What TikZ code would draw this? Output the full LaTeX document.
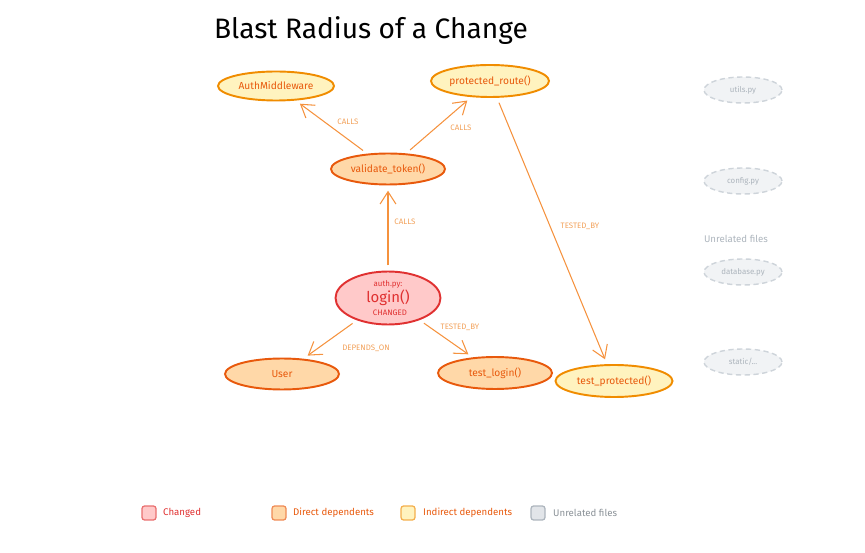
\documentclass[tikz,border=0pt]{standalone}
\usepackage{fontspec}
\setmainfont{Fira Sans}
\usetikzlibrary{shapes.geometric, arrows.meta}
\definecolor{chgfill}{HTML}{FFC9C9}
\definecolor{chgline}{HTML}{E03131}
\definecolor{dirfill}{HTML}{FFD8A8}
\definecolor{dirline}{HTML}{E8590C}
\definecolor{indfill}{HTML}{FFF3BF}
\definecolor{indline}{HTML}{F08C00}
\definecolor{unrfill}{HTML}{F1F3F5}
\definecolor{unrline}{HTML}{CED4DA}
\definecolor{unrtext}{HTML}{ADB5BD}
\definecolor{edgec}{HTML}{F5923E}
\definecolor{lblc}{HTML}{F2A25C}

\begin{document}
\begin{tikzpicture}[x=0.02cm, y=-0.02cm,
		chg/.style={draw=chgline, fill=chgfill, ellipse, line width=1.1pt, text=chgline, inner sep=0},
		dir/.style={draw=dirline, fill=dirfill, ellipse, line width=1.1pt, text=dirline, inner sep=0, font=\fontsize{5.8}{7}\selectfont},
		ind/.style={draw=indline, fill=indfill, ellipse, line width=1.1pt, text=dirline, inner sep=0, font=\fontsize{5.8}{7}\selectfont},
		unr/.style={draw=unrline, fill=unrfill, ellipse, dash pattern=on 3pt off 2pt, line width=0.8pt, text=unrtext, inner sep=0, minimum width=1.56cm, minimum height=0.52cm, font=\fontsize{4.5}{5}\selectfont},
		rel/.style={draw=edgec, line width=0.6pt, -{Straight Barb[length=7pt, width=9pt]}, shorten >=3pt, shorten <=3pt},
		lbl/.style={text=lblc, font=\fontsize{4.5}{5}\selectfont},
		key/.style={draw, rounded corners=1.5pt, line width=0.7pt, minimum size=0.28cm, inner sep=0},
		keytxt/.style={anchor=west, font=\fontsize{5.5}{6}\selectfont}]
		\useasboundingbox (0,0) rectangle (865,553);
		
		\node[font=\fontsize{16}{18}\selectfont] (title) at (371,31) {Blast Radius of a Change};
		
		% changed file
		\node[chg, minimum width=2.10cm, minimum height=1.06cm] (login) at (388,298) {};
		\node[text=chgline, font=\fontsize{4.5}{5}\selectfont] (loginfile) at (388,284) {auth.py:};
		\node[text=chgline, font=\fontsize{8.5}{9}\selectfont] (loginname) at (388,298) {login()};
		\node[text=chgline, font=\fontsize{4.5}{5}\selectfont] (loginflag) at (390,313) {CHANGED};
		
		% direct dependents
		\node[dir, minimum width=2.28cm, minimum height=0.62cm] (val) at (388,169) {validate\_token()};
		\node[dir, minimum width=2.28cm, minimum height=0.62cm] (user) at (282,374) {User};
		\node[dir, minimum width=2.28cm, minimum height=0.64cm] (tlogin) at (495,373) {test\_login()};
		
		% indirect dependents
		\node[ind, minimum width=2.32cm, minimum height=0.58cm] (auth) at (276,86) {AuthMiddleware};
		\node[ind, minimum width=2.36cm, minimum height=0.64cm] (prot) at (490,81) {protected\_route()};
		\node[ind, minimum width=2.34cm, minimum height=0.64cm] (tprot) at (614,381) {test\_protected()};
		
		% unrelated files
		\node[unr] (utils) at (743,90) {utils.py};
		\node[unr] (config) at (743,181) {config.py};
		\node[unr] (db) at (743,272) {database.py};
		\node[unr] (static) at (743,362) {static/...};
		\node[text=unrtext, font=\fontsize{5.5}{6}\selectfont] (unrlbl) at (736,239) {Unrelated files};
		
		\draw[rel] (login) -- (val);
		\draw[rel] (val) -- (auth);
		\draw[rel] (val) -- (prot);
		\draw[rel] (login) -- (user);
		\draw[rel] (login) -- (tlogin);
		\draw[rel] (prot) -- (tprot);
		
		\node[lbl] (l1) at (405,222) {CALLS};
		\node[lbl] (l2) at (348,122) {CALLS};
		\node[lbl] (l3) at (461,128) {CALLS};
		\node[lbl] (l4) at (366,348) {DEPENDS\_ON};
		\node[lbl] (l5) at (460,327) {TESTED\_BY};
		\node[lbl] (l6) at (580,226) {TESTED\_BY};
		
		% legend
		\node[key, draw=chgline!70, fill=chgfill] (k1) at (149,513) {};
		\node[keytxt, text=chgline] (t1) at (157,513) {Changed};
		\node[key, draw=dirline!70, fill=dirfill] (k2) at (279,513) {};
		\node[keytxt, text=dirline] (t2) at (287,513) {Direct dependents};
		\node[key, draw=indline!70, fill=indfill] (k3) at (408,513) {};
		\node[keytxt, text=dirline] (t3) at (417,513) {Indirect dependents};
		\node[key, draw=unrtext, fill=unrline!60] (k4) at (538,513) {};
		\node[keytxt, text=unrtext!80!black] (t4) at (547,513) {Unrelated files};
\end{tikzpicture}
\end{document}
